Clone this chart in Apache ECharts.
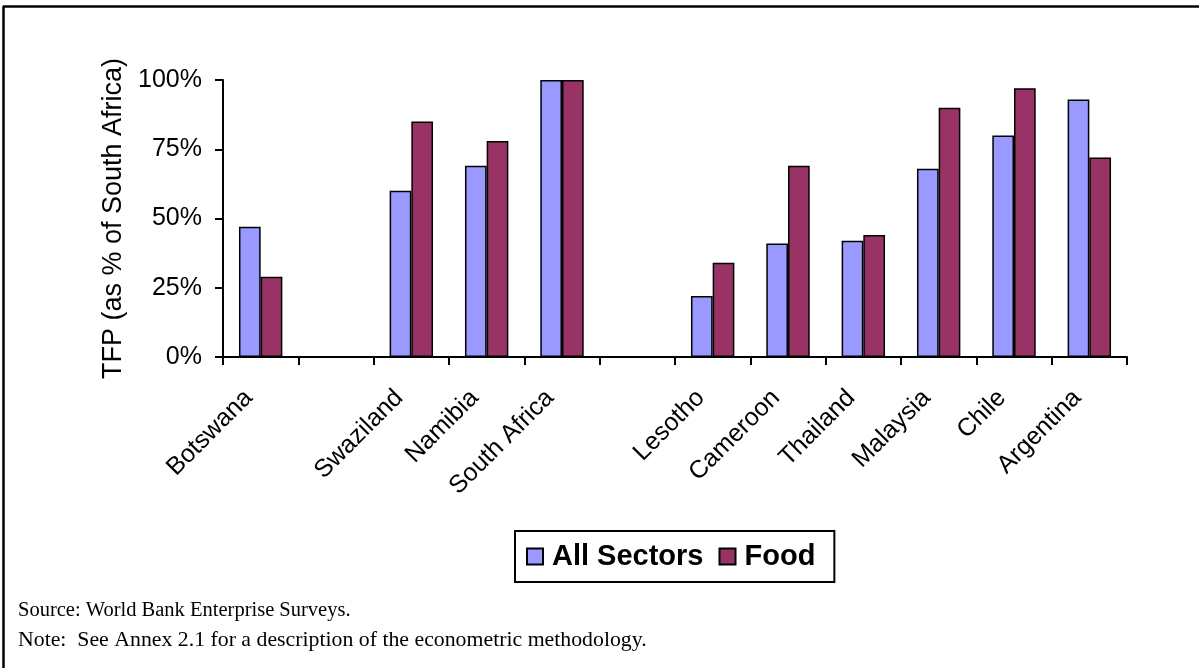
<!DOCTYPE html>
<html>
<head>
<meta charset="utf-8">
<script src="https://cdn.jsdelivr.net/npm/echarts@6/dist/echarts.min.js"></script>
<style>
html,body{margin:0;padding:0;background:#fff;}
#chart{width:1199px;height:668px;}
</style>
</head>
<body>
<div id="chart"></div>
<script>
// Data
var categories = ['Botswana', '', 'Swaziland', 'Namibia', 'South Africa', '', 'Lesotho', 'Cameroon', 'Thailand', 'Malaysia', 'Chile', 'Argentina'];
var allSectors = [47, null, 60, 69, 100, null, 22, 41, 42, 68, 80, 93];
var food       = [29, null, 85, 78, 100, null, 34, 69, 44, 90, 97, 72];
var seriesNames = ['All Sectors', 'Food'];
var yTicks = [0, 25, 50, 75, 100];
var yAxisTitle = 'TFP (as % of South Africa)';
var sourceNote = 'Source: World Bank Enterprise Surveys.';
var methodNote = 'Note:  See Annex 2.1 for a description of the econometric methodology.';

var chart = echarts.init(document.getElementById('chart'), null, {renderer: 'canvas'});
var sansFont = '"Liberation Sans", Arial, sans-serif';
var serifFont = '"Liberation Serif", "Times New Roman", serif';
var option = {
  animation: false,
  backgroundColor: '#ffffff',
  grid: [
    {left: 223, right: 72, top: 80, bottom: 311, containLabel: false},
    // label grid: same size, shifted a few px left so rotated labels end under the first bar as in the reference
    {left: 211, right: 84, top: 80, bottom: 311, containLabel: false}
  ],
  legend: {
    data: seriesNames,
    left: 515, top: 531,
    orient: 'horizontal',
    icon: 'rect',
    padding: [11, 19, 11, 11],
    itemGap: 15,
    itemWidth: 16, itemHeight: 16,
    borderColor: '#000', borderWidth: 2,
    textStyle: {fontFamily: sansFont, fontSize: 29, fontWeight: 'bold', color: '#000', padding: [0, 0, 0, 4]}
  },
  xAxis: [
    {
      type: 'category', gridIndex: 0,
      data: categories,
      boundaryGap: true,
      axisLine: {show: true, lineStyle: {color: '#000', width: 2}},
      axisTick: {show: true, interval: 0, length: 8, lineStyle: {color: '#000', width: 2}},
      axisLabel: {show: false, interval: 0}
    },
    {
      type: 'category', gridIndex: 1,
      data: categories,
      boundaryGap: true,
      axisLine: {show: false},
      axisTick: {show: false},
      axisLabel: {
        interval: 0, rotate: 45, margin: 37,
        fontFamily: sansFont, fontSize: 25, color: '#000'
      }
    }
  ],
  yAxis: [
    {
      type: 'value', gridIndex: 0,
      min: yTicks[0], max: yTicks[yTicks.length - 1], interval: 25,
      name: yAxisTitle,
      nameLocation: 'middle', nameRotate: 90, nameGap: 96,
      nameTextStyle: {fontFamily: sansFont, fontSize: 27, color: '#000'},
      axisLine: {show: true, lineStyle: {color: '#000', width: 2}},
      axisTick: {show: true, length: 8, lineStyle: {color: '#000', width: 2}},
      splitLine: {show: false},
      axisLabel: {
        formatter: '{value}%', margin: 21,
        fontFamily: sansFont, fontSize: 25, color: '#000'
      }
    },
    {
      type: 'value', gridIndex: 1,
      min: yTicks[0], max: yTicks[yTicks.length - 1], interval: 25,
      show: false
    }
  ],
  series: [
    {
      name: seriesNames[0], type: 'bar', data: allSectors,
      xAxisIndex: 0, yAxisIndex: 0,
      barWidth: 21.7, barGap: '0%',
      itemStyle: {color: '#9999FF', borderColor: '#000', borderWidth: 1.5}
    },
    {
      name: seriesNames[1], type: 'bar', data: food,
      xAxisIndex: 0, yAxisIndex: 0,
      barWidth: 21.7, barGap: '0%',
      itemStyle: {color: '#993366', borderColor: '#000', borderWidth: 1.5}
    }
  ],
  graphic: [
    {type: 'line', shape: {x1: 3, y1: 6.5, x2: 1199, y2: 6.5}, style: {stroke: '#000', lineWidth: 2.5}},
    {type: 'line', shape: {x1: 3.5, y1: 6, x2: 3.5, y2: 668}, style: {stroke: '#000', lineWidth: 2.5}},
    {type: 'text', left: 18, top: 600, style: {text: sourceNote, font: '20.5px ' + serifFont, fill: '#000'}},
    {type: 'text', left: 18, top: 629, style: {text: methodNote, font: '21.8px ' + serifFont, fill: '#000'}}
  ]
};
chart.setOption(option);
</script>
</body>
</html>
